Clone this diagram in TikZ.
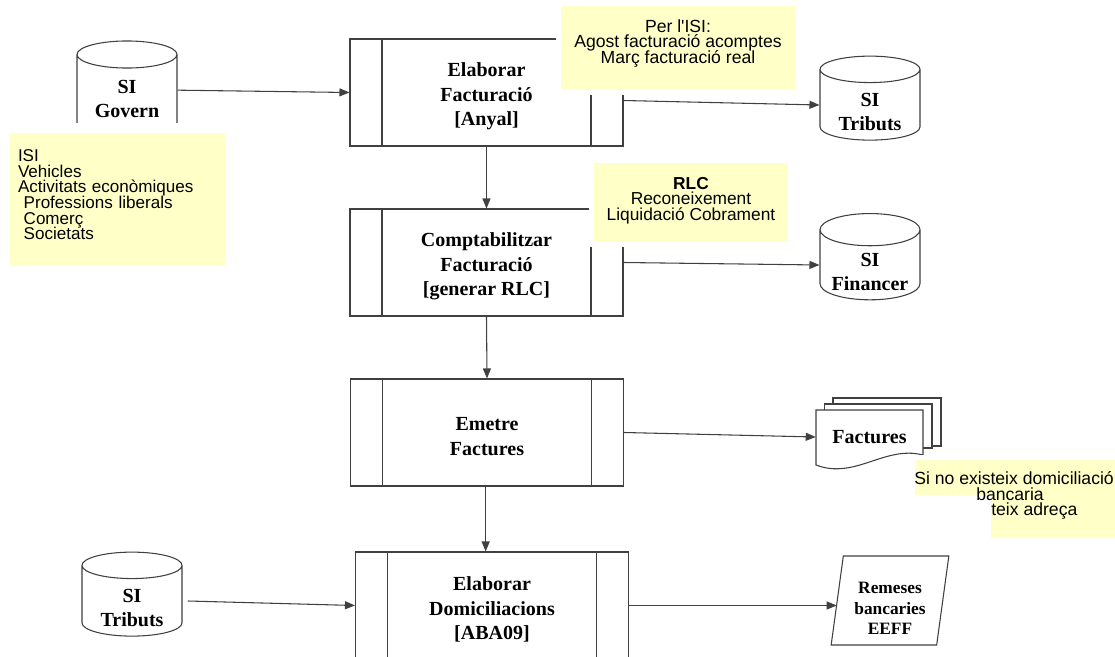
\documentclass[tikz,border=0pt]{standalone}
\usepackage{fontspec}
\setmainfont{Liberation Serif}
\newfontfamily\arial{Liberation Sans}
\usetikzlibrary{shapes.geometric,arrows.meta}

\definecolor{notagroc}{HTML}{FFFFC8}
\definecolor{tracat}{HTML}{404040}

% linies amb interlineat fix, desplacades verticalment sense canviar la mida de la caixa
\newcommand\desplc[2]{\raisebox{#1}[\height][\depth]{\vbox{\lineskiplimit=-20pt\let\\\cr
  \halign{\hfil##\hfil\cr#2\crcr}}}}
\newcommand\despll[2]{\raisebox{#1}[\height][\depth]{\vbox{\lineskiplimit=-20pt\let\\\cr
  \halign{##\hfil\cr#2\crcr}}}}

\tikzset{
  linia/.style={draw=tracat, line width=0.8pt},
  fletxa/.style={linia, -{Triangle[length=7.5pt,width=6pt]}},
  proces/.style={linia, fill=white, rectangle, minimum width=204.75pt, minimum height=80.25pt,
    font=\fontsize{15}{18.4}\selectfont\bfseries,
    path picture={
      \draw[tracat, line width=0.8pt] ([xshift=24pt]path picture bounding box.north west) -- ([xshift=24pt]path picture bounding box.south west);
      \draw[tracat, line width=0.8pt] ([xshift=-24pt]path picture bounding box.north east) -- ([xshift=-24pt]path picture bounding box.south east);
    }},
  magatzem/.style={linia, fill=white, cylinder, shape border rotate=90, aspect=0.42,
    minimum width=75pt, minimum height=63pt, inner sep=0pt,
    font=\fontsize{15}{18}\selectfont\bfseries},
  nota/.style={rectangle, fill=notagroc, preaction={draw=white, line width=7.5pt},
    inner sep=0pt},
  textnota/.style={inner sep=0pt, font=\arial\fontsize{13.2}{11.6}\selectfont}
}

\begin{document}
\begin{tikzpicture}[x=0.75pt, y=-0.75pt]
\useasboundingbox (0,0) rectangle (1115,657);
\clip (0,0) rectangle (1115,657);

% processos
\node[proces] (elab) at (486.5,92.5) {\desplc{-3pt}{Elaborar\\Facturació\\{[Anyal]}}};
\node[proces] (compt) at (486.5,262.5) {\desplc{-3pt}{Comptabilitzar\\Facturació\\{[generar RLC]}}};
\node[proces] (emet) at (487,432.5) {\desplc{-3pt}{Emetre\\Factures}};
\node[proces] (domi) at (492,605.5) {\desplc{-3pt}{Elaborar\\Domiciliacions\\{[ABA09]}}};

% magatzems
\node[magatzem, minimum height=71.25pt] (govern) at (127,95.5) {\desplc{-2.5pt}{SI\\Govern}};
\node[magatzem] (tribA) at (870,105) {\desplc{-5.5pt}{SI\\Tributs}};
\node[magatzem] (financ) at (870,265) {\desplc{-5pt}{SI\\Financer}};
\node[magatzem] (tribB) at (132,601) {\desplc{-5.5pt}{SI\\Tributs}};

% document multiple
\filldraw[linia, fill=white] (833,398) rectangle (941,446);
\filldraw[linia, fill=white] (824.5,404) rectangle (932,448);
\filldraw[linia, fill=white] (816,410) -- (923,410) -- (923,455)
  .. controls (885,445) and (855,480) .. (816,465) -- cycle;
\node[minimum width=80.25pt, minimum height=42pt, inner sep=0pt,
  font=\fontsize{15}{18}\selectfont\bfseries] (fact) at (869.5,437) {Factures};

% remeses
\node[linia, fill=white, trapezium, trapezium left angle=80, trapezium right angle=100,
  trapezium stretches=true, minimum width=88.5pt, minimum height=66.75pt, inner sep=0pt,
  font=\fontsize{13}{15.5}\selectfont\bfseries] (rem) at (890,600.5)
  {\desplc{-6pt}{Remeses\\bancaries\\EEFF}};

% fletxes
\draw[fletxa] ([yshift=4pt]govern.east) -- (elab.west);
\draw[fletxa] ([yshift=-6pt]elab.east) -- (tribA.west);
\draw[fletxa] (elab.south) -- (compt.north);
\draw[fletxa] (compt.east) -- (financ.west);
\draw[fletxa] (compt.south) -- (emet.north);
\draw[fletxa] (emet.east) -- (fact.west);
\draw[fletxa] ([xshift=-1pt]emet.south) -- ([xshift=-1pt]emet.south |- domi.north);
\draw[fletxa] ([xshift=4pt]tribB.east) -- (domi.west);
\draw[fletxa] (domi.east) -- (domi.east -| rem.west);

% notes
\node[nota, preaction={draw=white, line width=15pt}, minimum width=161.25pt, minimum height=99.75pt,
  text width=149.25pt, align=left, font=\arial\fontsize{12.8}{11.7}\selectfont]
  (notaISI) at (117.5,199.5)
  {\despll{3.5pt}{ISI\\Vehicles\\Activitats econòmiques\\\ Professions liberals\\\ Comerç\\\ Societats}};
\node[nota, minimum width=175.5pt, minimum height=63pt, font=\arial\fontsize{13.2}{11.6}\selectfont]
  (notaFact) at (678,48)
  {\desplc{3.5pt}{Per l'ISI:\\Agost facturació acomptes\\Març facturació real}};
\node[nota, minimum width=145.5pt, minimum height=59.25pt, font=\arial\fontsize{13}{11.6}\selectfont]
  (notaRLC) at (691,202.5)
  {\desplc{1.5pt}{\bfseries RLC\\Reconeixement\\Liquidació Cobrament}};

\fill[notagroc, preaction={draw=white, line width=7.5pt}]
  (915,460) -- (1125,460) -- (1125,538) -- (991,538) -- (991,495) -- (915,495) -- cycle;
\node[textnota, anchor=west] (domA) at (914,478) {Si no existeix domiciliació};
\node[textnota] (domB) at (1010,494) {bancaria};
\node[textnota, anchor=west] (domC) at (991,511) {teix adreça};
\end{tikzpicture}
\end{document}
